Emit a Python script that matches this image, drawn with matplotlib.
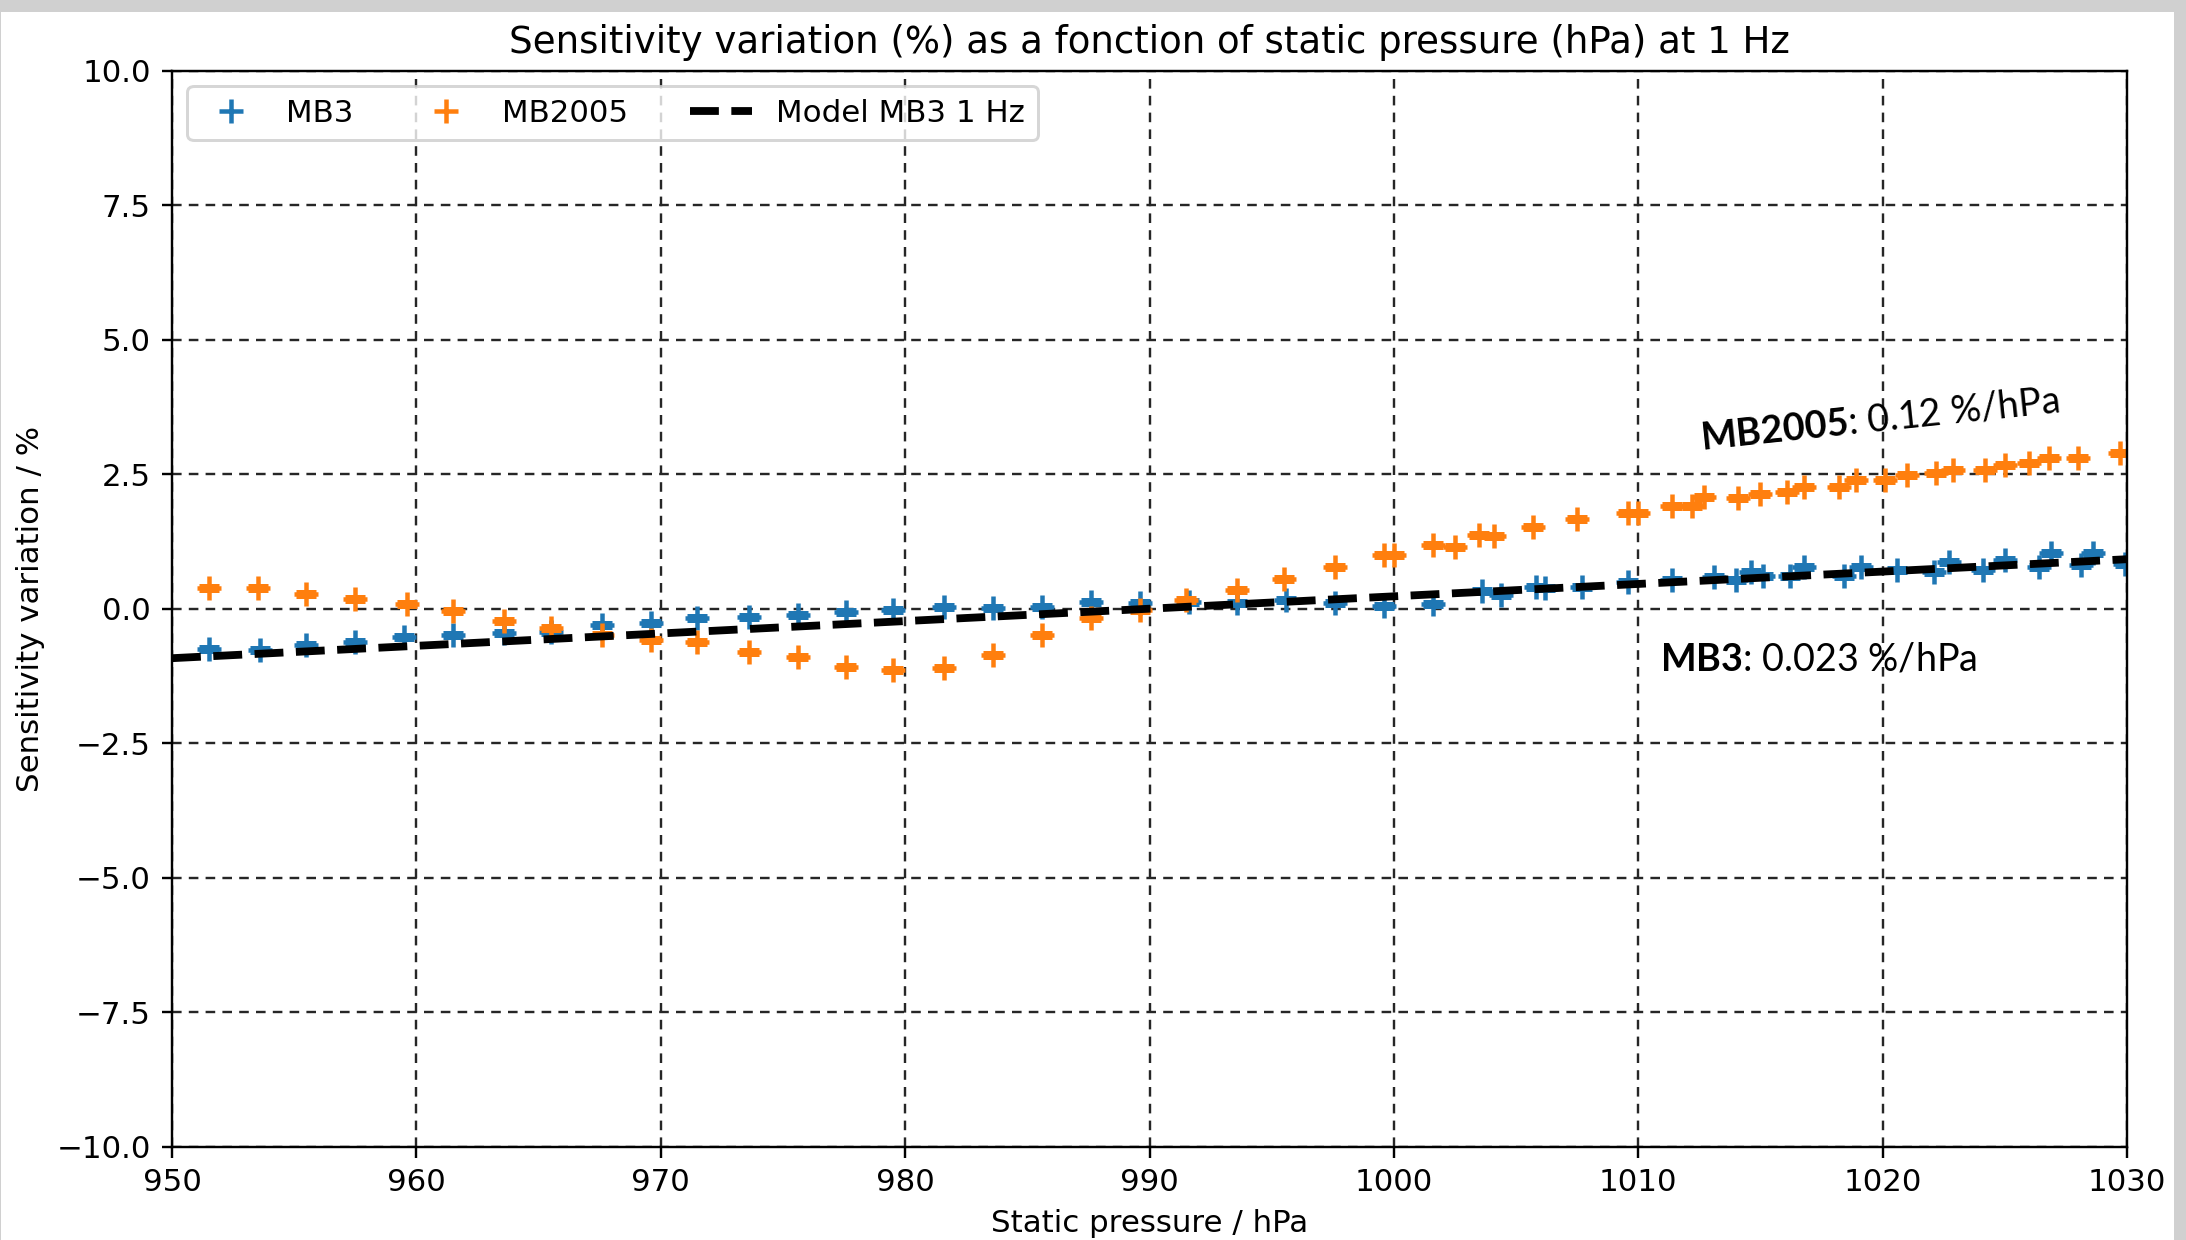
import matplotlib
matplotlib.use("Agg")
import matplotlib.pyplot as plt
from matplotlib.patches import Rectangle

# Data
mb3_p = [951.5, 953.6, 955.5, 957.5, 959.5, 961.5, 963.6, 965.5, 967.6, 969.6,
         971.5, 973.6, 975.6, 977.6, 979.5, 981.6, 983.6, 985.6, 987.6, 989.6,
         991.6, 993.6, 995.6, 997.6, 999.6, 1001.6, 1003.6, 1004.4, 1005.8, 1006.2,
         1007.7, 1009.6, 1011.4, 1013.1, 1014.0, 1014.6, 1015.1, 1016.2, 1016.8, 1018.4,
         1019.1, 1020.6, 1022.1, 1022.7, 1024.1, 1025.0, 1026.4, 1026.9, 1028.1, 1028.6,
         1029.9]
mb3_s = [-0.74, -0.77, -0.68, -0.61, -0.52, -0.49, -0.46, -0.43, -0.30, -0.27,
         -0.18, -0.15, -0.12, -0.06, -0.02, 0.04, 0.01, 0.04, 0.13, 0.10,
         0.13, 0.10, 0.16, 0.10, 0.05, 0.08, 0.32, 0.25, 0.41, 0.38,
         0.41, 0.50, 0.53, 0.59, 0.53, 0.69, 0.60, 0.60, 0.78, 0.60,
         0.78, 0.72, 0.69, 0.87, 0.72, 0.90, 0.78, 1.03, 0.81, 1.03,
         0.84]

mb2005_p = [951.5, 953.5, 955.5, 957.5, 959.6, 961.5, 963.6, 965.5, 967.6, 969.6,
            971.5, 973.6, 975.6, 977.6, 979.5, 981.6, 983.6, 985.6, 987.6, 989.6,
            991.5, 993.6, 995.5, 997.6, 999.6, 1000.0, 1001.6, 1002.5, 1003.5, 1004.1,
            1005.7, 1007.5, 1009.6, 1010.0, 1011.4, 1012.2, 1012.7, 1014.1, 1015.0, 1016.1,
            1016.8, 1018.2, 1018.9, 1020.1, 1021.0, 1022.2, 1022.9, 1024.2, 1025.0, 1026.0,
            1026.8, 1028.0, 1029.7]
mb2005_s = [0.39, 0.39, 0.27, 0.18, 0.09, -0.05, -0.23, -0.35, -0.49, -0.58,
            -0.61, -0.80, -0.89, -1.08, -1.14, -1.11, -0.86, -0.49, -0.18, -0.02,
            0.16, 0.35, 0.56, 0.78, 1.00, 1.00, 1.19, 1.14, 1.37, 1.35,
            1.51, 1.66, 1.78, 1.78, 1.90, 1.90, 2.07, 2.05, 2.14, 2.17,
            2.27, 2.27, 2.39, 2.39, 2.49, 2.52, 2.58, 2.58, 2.67, 2.70,
            2.80, 2.80, 2.89]

model_p = [950, 1030]
model_s = [-0.92, 0.92]

plt.rcParams['font.size'] = 10.3
plt.rcParams['mathtext.fontset'] = 'custom'
plt.rcParams['mathtext.rm'] = 'Lato'
plt.rcParams['mathtext.bf'] = 'Lato:bold'

dpi = 216
fig = plt.figure(figsize=(2186 / dpi, 1240 / dpi), dpi=dpi, facecolor='#d0d0d0')
# white page inside the grey screenshot border
fig.patches.append(Rectangle((2 / 2186, 0), 2170 / 2186, 1227 / 1240,
                             transform=fig.transFigure, color='white', zorder=-1))
ax = fig.add_axes([172 / 2186, 1 - 1146.7 / 1240, (2127 - 172) / 2186, (1146.7 - 70.7) / 1240])

ax.plot(mb3_p, mb3_s, '+', color='C0', ms=8, mew=1.5, label='MB3')
ax.plot(mb3_p, mb3_s, '_', color='C0', ms=6.5, mew=3)
ax.plot(mb2005_p, mb2005_s, '+', color='C1', ms=8, mew=1.5, label='MB2005')
ax.plot(mb2005_p, mb2005_s, '_', color='C1', ms=6.5, mew=3)
ax.plot(model_p, model_s, 'k--', lw=2.6, label='Model MB3 1 Hz')

ax.set_xlim(950, 1030)
ax.set_ylim(-10, 10)
ax.set_yticks([-10, -7.5, -5, -2.5, 0, 2.5, 5, 7.5, 10])
ax.grid(True, color='0.15', lw=0.8, ls=(0, (4, 3)))
ax.set_xlabel('Static pressure / hPa')
ax.set_ylabel('Sensitivity variation / %')
ax.set_title('Sensitivity variation (%) as a fonction of static pressure (hPa) at 1 Hz')
ax.legend(loc='upper left', ncol=3)

ax.text(1012.6, 2.95, r'$\mathbf{MB2005}$: 0.12 %/hPa', family='Lato', fontsize=12.6,
        rotation=6, rotation_mode='anchor', ha='left', va='baseline')
ax.text(1010.9, -1.14, r'$\mathbf{MB3}$: 0.023 %/hPa', family='Lato', fontsize=12.6,
        ha='left', va='baseline')

plt.savefig('out.png', dpi=dpi, facecolor=fig.get_facecolor())
